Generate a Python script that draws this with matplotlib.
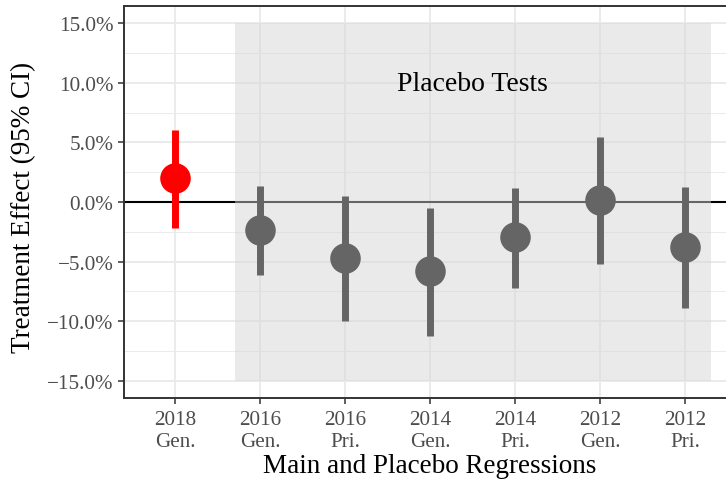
import numpy as np
import matplotlib
matplotlib.use('Agg')
import matplotlib.pyplot as plt
from matplotlib.ticker import FuncFormatter, MultipleLocator

plt.rcParams['font.family'] = ['Liberation Serif', 'DejaVu Serif']

# data (percent)
labels = ['2018\nGen.', '2016\nGen.', '2016\nPri.', '2014\nGen.', '2014\nPri.', '2012\nGen.', '2012\nPri.']
est = [2.0, -2.35, -4.7, -5.8, -2.95, 0.15, -3.8]
lo = [-2.2, -6.1, -10.0, -11.2, -7.2, -5.2, -8.9]
hi = [6.0, 1.35, 0.5, -0.5, 1.2, 5.45, 1.25]
colors = ['red', 'black', 'black', 'black', 'black', 'black', 'black']

x = np.arange(1, len(labels) + 1)

fig = plt.figure(figsize=(7.26, 4.89), dpi=100)
ax = fig.add_axes([124/726, 1 - 399/489, 612/726, 392/489])

ax.set_xlim(0.4, 7.6)
ax.set_ylim(-16.43, 16.43)

# grid
ax.yaxis.set_major_locator(MultipleLocator(5))
ax.yaxis.set_minor_locator(MultipleLocator(2.5))
ax.set_xticks(x)
ax.grid(which='major', color='#EBEBEB', lw=1.4, zorder=0)
ax.grid(which='minor', axis='y', color='#EBEBEB', lw=0.7, zorder=0)
ax.set_axisbelow(True)

ax.axhline(0, color='black', lw=1.5, zorder=2)

for i in range(len(x)):
    ax.plot([x[i], x[i]], [lo[i], hi[i]], color=colors[i], lw=5, solid_capstyle='butt', zorder=3)
    ax.plot(x[i], est[i], 'o', color=colors[i], ms=22, mew=0, zorder=4)

# placebo shading drawn on top
ax.fill_between([1.7, 7.3], -15, 15, color='#D5D5D5', alpha=0.48, lw=0, zorder=5)
ax.text(4.5, 9.9, 'Placebo Tests', ha='center', va='center', fontsize=20, zorder=6)

ax.yaxis.set_major_formatter(FuncFormatter(lambda v, p: ('%.1f%%' % v).replace('-', '\u2212')))
ax.set_xticklabels(labels)
ax.tick_params(which='major', length=4, width=1.1, color='#333333', labelcolor='#4D4D4D', labelsize=15.2)
ax.tick_params(axis='x', pad=5)
ax.tick_params(which='minor', length=0)
for s in ax.spines.values():
    s.set_color('#333333')
    s.set_linewidth(1.4)

ax.set_xlabel('Main and Placebo Regressions', fontsize=19.5)
ax.set_ylabel('Treatment Effect (95% CI)', fontsize=19.5)
ax.xaxis.set_label_coords(306/612, -(467 - 399) / 392, transform=ax.transAxes)
ax.xaxis.label.set_va('center')
ax.yaxis.set_label_coords(-(124 - 24) / 612, (399 - 207) / 392, transform=ax.transAxes)
ax.yaxis.label.set_va('center')

fig.savefig('out.png', dpi=100)
